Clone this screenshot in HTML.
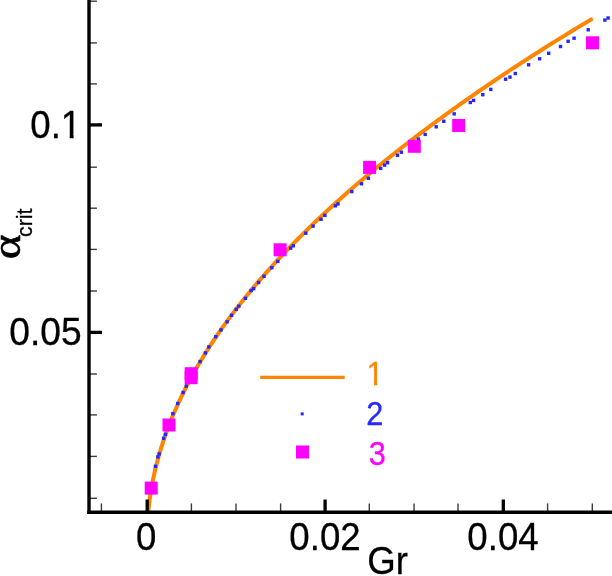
<!DOCTYPE html>
<html><head><meta charset="utf-8"><title>plot</title>
<style>
html,body{margin:0;padding:0;background:#fff;}
body{width:612px;height:576px;overflow:hidden;font-family:"Liberation Sans",sans-serif;}
svg{display:block;will-change:transform;filter:blur(0.4px);}
text{font-family:"Liberation Sans",sans-serif;}
</style></head><body>
<svg width="612" height="576" viewBox="0 0 612 576">
<rect x="0" y="0" width="612" height="576" fill="#fff"/>
<clipPath id="pc"><rect x="89" y="0" width="523" height="512.3"/></clipPath>
<path clip-path="url(#pc)" d="M148.07 514.06 L148.08 513.93 L148.11 513.54 L148.17 512.92 L148.25 512.06 L148.34 511.01 L148.47 509.76 L148.61 508.36 L148.78 506.82 L148.97 505.15 L149.18 503.38 L149.41 501.52 L149.66 499.59 L149.94 497.59 L150.24 495.53 L150.56 493.42 L150.90 491.27 L151.27 489.08 L151.66 486.85 L152.07 484.60 L152.50 482.32 L152.95 480.02 L153.43 477.70 L153.93 475.37 L154.45 473.01 L154.99 470.64 L155.56 468.26 L156.14 465.86 L156.75 463.46 L157.38 461.04 L158.04 458.62 L158.71 456.19 L159.41 453.75 L160.13 451.30 L160.87 448.85 L161.64 446.39 L162.42 443.92 L163.23 441.45 L164.06 438.97 L164.91 436.49 L165.79 434.01 L166.69 431.52 L167.61 429.02 L168.55 426.53 L169.51 424.03 L170.50 421.53 L171.50 419.02 L172.53 416.51 L173.59 414.00 L174.66 411.48 L175.76 408.97 L176.88 406.45 L178.02 403.92 L179.18 401.40 L180.37 398.87 L181.57 396.35 L182.80 393.82 L184.05 391.28 L185.33 388.75 L186.62 386.21 L187.94 383.68 L189.28 381.14 L190.64 378.60 L192.03 376.05 L193.44 373.51 L194.86 370.97 L196.32 368.42 L197.79 365.87 L199.28 363.32 L200.80 360.77 L202.34 358.22 L203.90 355.66 L205.49 353.11 L207.09 350.55 L208.72 348.00 L210.37 345.44 L212.04 342.88 L213.74 340.32 L215.45 337.76 L217.19 335.20 L218.95 332.63 L220.74 330.07 L222.54 327.50 L224.37 324.93 L226.22 322.37 L228.09 319.80 L229.99 317.23 L231.90 314.66 L233.84 312.09 L235.80 309.51 L237.78 306.94 L239.79 304.37 L241.82 301.79 L243.86 299.22 L245.94 296.64 L248.03 294.06 L250.14 291.48 L252.28 288.90 L254.44 286.32 L256.62 283.74 L258.83 281.16 L261.05 278.58 L263.30 275.99 L265.57 273.41 L267.87 270.82 L270.18 268.24 L272.52 265.65 L274.88 263.06 L277.26 260.48 L279.66 257.89 L282.09 255.30 L284.54 252.71 L287.01 250.11 L289.50 247.52 L292.01 244.93 L294.55 242.34 L297.11 239.74 L299.69 237.15 L302.29 234.55 L304.92 231.96 L307.56 229.36 L310.23 226.76 L312.92 224.16 L315.64 221.56 L318.37 218.96 L321.13 216.36 L323.91 213.76 L326.71 211.16 L329.54 208.56 L332.38 205.95 L335.25 203.35 L338.14 200.74 L341.06 198.14 L343.99 195.53 L346.95 192.93 L349.93 190.32 L352.93 187.71 L355.95 185.10 L359.00 182.49 L362.07 179.88 L365.16 177.27 L368.27 174.66 L371.41 172.05 L374.56 169.44 L377.74 166.82 L380.94 164.21 L384.17 161.59 L387.41 158.98 L390.68 156.36 L393.97 153.74 L397.28 151.13 L400.61 148.51 L403.97 145.89 L407.35 143.27 L410.75 140.65 L414.17 138.03 L417.61 135.41 L421.08 132.79 L424.57 130.17 L428.08 127.54 L431.61 124.92 L435.17 122.30 L438.75 119.67 L442.35 117.05 L445.97 114.42 L449.61 111.79 L453.28 109.16 L456.97 106.54 L460.68 103.91 L464.41 101.28 L468.17 98.65 L471.94 96.02 L475.74 93.39 L479.56 90.76 L483.41 88.12 L487.27 85.49 L491.16 82.86 L495.07 80.22 L499.00 77.59 L502.96 74.95 L506.93 72.32 L510.93 69.68 L514.95 67.04 L518.99 64.40 L523.06 61.77 L527.15 59.13 L531.26 56.49 L535.39 53.85 L539.54 51.21 L543.72 48.56 L547.91 45.92 L552.13 43.28 L556.38 40.64 L560.64 37.99 L564.93 35.35 L569.23 32.70 L573.57 30.06 L577.92 27.41 L582.29 24.76 L586.69 22.11 L591.11 19.47" fill="none" stroke="#ff8400" stroke-width="4.0" stroke-linecap="round" stroke-linejoin="round"/>
<rect x="153.70" y="464.60" width="3.4" height="3.4" fill="#2626ff"/>
<rect x="156.20" y="455.20" width="3.4" height="3.4" fill="#2626ff"/>
<rect x="157.50" y="452.20" width="3.4" height="3.4" fill="#2626ff"/>
<rect x="161.90" y="436.60" width="3.4" height="3.4" fill="#2626ff"/>
<rect x="163.70" y="432.60" width="3.4" height="3.4" fill="#2626ff"/>
<rect x="171.20" y="412.00" width="3.4" height="3.4" fill="#2626ff"/>
<rect x="176.00" y="401.80" width="3.4" height="3.4" fill="#2626ff"/>
<rect x="181.40" y="390.80" width="3.4" height="3.4" fill="#2626ff"/>
<rect x="184.60" y="384.40" width="3.4" height="3.4" fill="#2626ff"/>
<rect x="198.40" y="359.90" width="3.4" height="3.4" fill="#2626ff"/>
<rect x="203.70" y="351.20" width="3.4" height="3.4" fill="#2626ff"/>
<rect x="207.10" y="345.20" width="3.4" height="3.4" fill="#2626ff"/>
<rect x="214.10" y="335.00" width="3.4" height="3.4" fill="#2626ff"/>
<rect x="219.30" y="328.20" width="3.4" height="3.4" fill="#2626ff"/>
<rect x="225.40" y="320.10" width="3.4" height="3.4" fill="#2626ff"/>
<rect x="229.80" y="313.60" width="3.4" height="3.4" fill="#2626ff"/>
<rect x="234.50" y="307.60" width="3.4" height="3.4" fill="#2626ff"/>
<rect x="237.10" y="304.40" width="3.4" height="3.4" fill="#2626ff"/>
<rect x="243.70" y="296.60" width="3.4" height="3.4" fill="#2626ff"/>
<rect x="249.50" y="288.80" width="3.4" height="3.4" fill="#2626ff"/>
<rect x="252.00" y="286.90" width="3.4" height="3.4" fill="#2626ff"/>
<rect x="256.90" y="280.80" width="3.4" height="3.4" fill="#2626ff"/>
<rect x="262.30" y="274.60" width="3.4" height="3.4" fill="#2626ff"/>
<rect x="270.10" y="266.00" width="3.4" height="3.4" fill="#2626ff"/>
<rect x="276.10" y="259.70" width="3.4" height="3.4" fill="#2626ff"/>
<rect x="289.00" y="246.40" width="3.4" height="3.4" fill="#2626ff"/>
<rect x="291.60" y="244.10" width="3.4" height="3.4" fill="#2626ff"/>
<rect x="304.10" y="231.50" width="3.4" height="3.4" fill="#2626ff"/>
<rect x="311.40" y="224.40" width="3.4" height="3.4" fill="#2626ff"/>
<rect x="319.30" y="217.60" width="3.4" height="3.4" fill="#2626ff"/>
<rect x="323.20" y="213.70" width="3.4" height="3.4" fill="#2626ff"/>
<rect x="333.70" y="204.10" width="3.4" height="3.4" fill="#2626ff"/>
<rect x="336.30" y="202.20" width="3.4" height="3.4" fill="#2626ff"/>
<rect x="350.10" y="189.90" width="3.4" height="3.4" fill="#2626ff"/>
<rect x="359.80" y="182.10" width="3.4" height="3.4" fill="#2626ff"/>
<rect x="366.70" y="176.60" width="3.4" height="3.4" fill="#2626ff"/>
<rect x="379.00" y="166.70" width="3.4" height="3.4" fill="#2626ff"/>
<rect x="382.90" y="163.40" width="3.4" height="3.4" fill="#2626ff"/>
<rect x="385.90" y="161.00" width="3.4" height="3.4" fill="#2626ff"/>
<rect x="395.80" y="153.60" width="3.4" height="3.4" fill="#2626ff"/>
<rect x="399.70" y="150.50" width="3.4" height="3.4" fill="#2626ff"/>
<rect x="416.70" y="137.40" width="3.4" height="3.4" fill="#2626ff"/>
<rect x="423.50" y="132.70" width="3.4" height="3.4" fill="#2626ff"/>
<rect x="434.50" y="125.10" width="3.4" height="3.4" fill="#2626ff"/>
<rect x="442.10" y="119.60" width="3.4" height="3.4" fill="#2626ff"/>
<rect x="452.50" y="112.20" width="3.4" height="3.4" fill="#2626ff"/>
<rect x="468.60" y="100.80" width="3.4" height="3.4" fill="#2626ff"/>
<rect x="471.90" y="98.70" width="3.4" height="3.4" fill="#2626ff"/>
<rect x="481.10" y="93.00" width="3.4" height="3.4" fill="#2626ff"/>
<rect x="489.10" y="87.70" width="3.4" height="3.4" fill="#2626ff"/>
<rect x="503.90" y="77.50" width="3.4" height="3.4" fill="#2626ff"/>
<rect x="508.30" y="75.40" width="3.4" height="3.4" fill="#2626ff"/>
<rect x="513.60" y="71.80" width="3.4" height="3.4" fill="#2626ff"/>
<rect x="526.90" y="63.10" width="3.4" height="3.4" fill="#2626ff"/>
<rect x="537.90" y="57.10" width="3.4" height="3.4" fill="#2626ff"/>
<rect x="547.00" y="51.60" width="3.4" height="3.4" fill="#2626ff"/>
<rect x="558.80" y="44.80" width="3.4" height="3.4" fill="#2626ff"/>
<rect x="566.40" y="39.60" width="3.4" height="3.4" fill="#2626ff"/>
<rect x="572.40" y="36.50" width="3.4" height="3.4" fill="#2626ff"/>
<rect x="586.50" y="28.10" width="3.4" height="3.4" fill="#2626ff"/>
<rect x="603.20" y="18.40" width="3.4" height="3.4" fill="#2626ff"/>
<rect x="606.40" y="16.30" width="3.4" height="3.4" fill="#2626ff"/>
<rect x="144.70" y="481.60" width="13" height="13" fill="#ff00ff"/>
<rect x="162.50" y="418.50" width="13" height="13" fill="#ff00ff"/>
<rect x="184.65" y="367.20" width="13" height="13" fill="#ff00ff"/>
<rect x="184.65" y="371.20" width="13" height="13" fill="#ff00ff"/>
<rect x="273.60" y="243.30" width="13" height="13" fill="#ff00ff"/>
<rect x="363.10" y="160.90" width="13" height="13" fill="#ff00ff"/>
<rect x="407.80" y="139.80" width="13" height="13" fill="#ff00ff"/>
<rect x="452.20" y="119.00" width="13" height="13" fill="#ff00ff"/>
<rect x="586.00" y="36.30" width="13" height="13" fill="#ff00ff"/>
<g stroke="#000" fill="none">
<line x1="101.40" y1="512.30" x2="101.40" y2="503.40" stroke-width="1.4" stroke="#3c3c3c"/>
<line x1="147.20" y1="512.30" x2="147.20" y2="499.50" stroke-width="3.3"/>
<line x1="191.40" y1="512.30" x2="191.40" y2="503.40" stroke-width="1.4" stroke="#3c3c3c"/>
<line x1="236.00" y1="512.30" x2="236.00" y2="503.40" stroke-width="1.4" stroke="#3c3c3c"/>
<line x1="280.60" y1="512.30" x2="280.60" y2="503.40" stroke-width="1.4" stroke="#3c3c3c"/>
<line x1="325.10" y1="512.30" x2="325.10" y2="499.50" stroke-width="3.3"/>
<line x1="369.30" y1="512.30" x2="369.30" y2="503.40" stroke-width="1.4" stroke="#3c3c3c"/>
<line x1="414.05" y1="512.30" x2="414.05" y2="503.40" stroke-width="1.4" stroke="#3c3c3c"/>
<line x1="458.00" y1="512.30" x2="458.00" y2="503.40" stroke-width="1.4" stroke="#3c3c3c"/>
<line x1="503.30" y1="512.30" x2="503.30" y2="499.50" stroke-width="3.3"/>
<line x1="547.60" y1="512.30" x2="547.60" y2="503.40" stroke-width="1.4" stroke="#3c3c3c"/>
<line x1="592.30" y1="512.30" x2="592.30" y2="503.40" stroke-width="1.4" stroke="#3c3c3c"/>
<line x1="89.00" y1="1.20" x2="96.90" y2="1.20" stroke-width="1.4" stroke="#3c3c3c"/>
<line x1="89.00" y1="42.90" x2="96.90" y2="42.90" stroke-width="1.4" stroke="#3c3c3c"/>
<line x1="89.00" y1="83.90" x2="96.90" y2="83.90" stroke-width="1.4" stroke="#3c3c3c"/>
<line x1="89.00" y1="124.90" x2="102.00" y2="124.90" stroke-width="3.3"/>
<line x1="89.00" y1="167.20" x2="96.90" y2="167.20" stroke-width="1.4" stroke="#3c3c3c"/>
<line x1="89.00" y1="208.20" x2="96.90" y2="208.20" stroke-width="1.4" stroke="#3c3c3c"/>
<line x1="89.00" y1="249.40" x2="96.90" y2="249.40" stroke-width="1.4" stroke="#3c3c3c"/>
<line x1="89.00" y1="291.00" x2="96.90" y2="291.00" stroke-width="1.4" stroke="#3c3c3c"/>
<line x1="89.00" y1="332.40" x2="102.00" y2="332.40" stroke-width="3.3"/>
<line x1="89.00" y1="374.00" x2="96.90" y2="374.00" stroke-width="1.4" stroke="#3c3c3c"/>
<line x1="89.00" y1="414.90" x2="96.90" y2="414.90" stroke-width="1.4" stroke="#3c3c3c"/>
<line x1="89.00" y1="456.40" x2="96.90" y2="456.40" stroke-width="1.4" stroke="#3c3c3c"/>
<line x1="89.00" y1="498.30" x2="96.90" y2="498.30" stroke-width="1.4" stroke="#3c3c3c"/>
<line x1="89.0" y1="0" x2="89.0" y2="514.0" stroke-width="3.4"/>
<line x1="87.3" y1="512.3" x2="612" y2="512.3" stroke-width="3.4"/>
</g>
<text transform="translate(146.30,550.00) scale(0.990,1.065)" font-size="37.0" text-anchor="middle" fill="#000" stroke="#000" stroke-width="0.28">0</text>
<text transform="translate(325.00,550.00) scale(0.990,1.065)" font-size="37.0" text-anchor="middle" fill="#000" stroke="#000" stroke-width="0.28">0.02</text>
<text transform="translate(503.00,550.00) scale(0.990,1.065)" font-size="37.0" text-anchor="middle" fill="#000" stroke="#000" stroke-width="0.28">0.04</text>
<text transform="translate(81.20,138.20) scale(0.990,1.065)" font-size="37.0" text-anchor="end" fill="#000" stroke="#000" stroke-width="0.28">0.1</text>
<text transform="translate(81.60,345.30) scale(1.005,1.065)" font-size="37.0" text-anchor="end" fill="#000" stroke="#000" stroke-width="0.28">0.05</text>
<rect x="62" y="134.5" width="7.7" height="4.6" fill="#fff"/><rect x="73.6" y="134.5" width="7.4" height="4.6" fill="#fff"/>
<text transform="translate(367.30,574.00) scale(0.990,1.065)" font-size="37.0" text-anchor="start" fill="#000" stroke="#000" stroke-width="0.28">Gr</text>
<text transform="translate(20.40,259.30) rotate(-90) scale(1.177,1.008)" font-size="40.0" text-anchor="start" fill="#000" stroke="#000" stroke-width="0.60" style="font-family:'Liberation Serif',serif">α</text>
<text transform="translate(31.90,237.00) rotate(-90) scale(0.990,1.065)" font-size="21.5" text-anchor="start" fill="#000" stroke="#000" stroke-width="0.28">crit</text>
<line x1="260.2" y1="377.4" x2="344.7" y2="377.4" stroke="#ff8400" stroke-width="3.2"/>
<rect x="300.7" y="412.4" width="3" height="3" fill="#2828ff"/>
<rect x="296" y="445.5" width="13" height="13" fill="#ff00ff"/>
<text transform="translate(366.50,385.00) scale(0.990,1.065)" font-size="31.0" text-anchor="start" fill="#ff8400" stroke="#ff8400" stroke-width="0.28">1</text>
<rect x="367.5" y="381.9" width="6.5" height="4.2" fill="#fff"/><rect x="377.15" y="381.9" width="6.2" height="4.2" fill="#fff"/>
<text transform="translate(366.20,424.50) scale(0.990,1.065)" font-size="31.0" text-anchor="start" fill="#2828ff" stroke="#2828ff" stroke-width="0.28">2</text>
<text transform="translate(368.70,465.00) scale(0.990,1.065)" font-size="31.0" text-anchor="start" fill="#ff00ff" stroke="#ff00ff" stroke-width="0.28">3</text>
</svg>
</body></html>
